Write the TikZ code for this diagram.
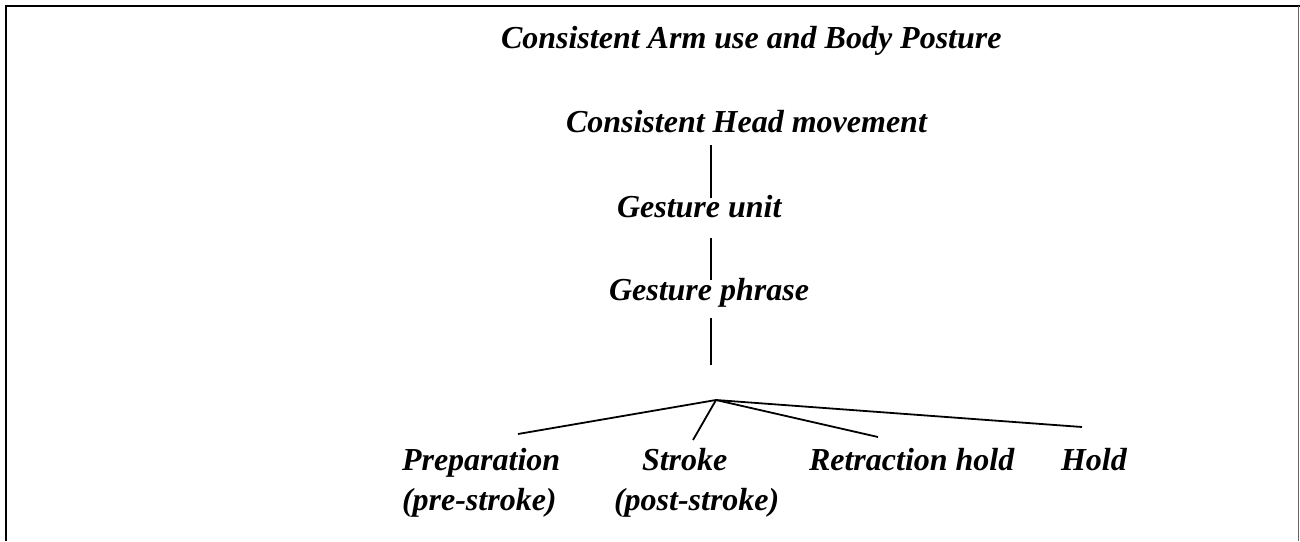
\documentclass[tikz,border=0pt]{standalone}
\usepackage{fontspec}
\setmainfont{Liberation Serif}
\usetikzlibrary{calc}
\begin{document}
\begin{tikzpicture}[x=1pt,y=-1pt,
  lbl/.style={inner sep=0pt, outer sep=0pt, anchor=base west, font=\fontsize{32}{40}\selectfont\bfseries\itshape},
  conn/.style={line width=1.8pt, black},
  frame/.style={line width=2.3pt, black}]
\useasboundingbox (0,0) rectangle (1300,541);
% frame
\draw[frame] (6,541) -- (6,6) -- (1300,6);
\draw[line width=1pt, black!60] (1298.5,6) -- (1298.5,541);
% labels
\node[lbl] (title) at (501,48) {Consistent Arm use and Body Posture};
\node[lbl] (head) at (566,132) {Consistent Head movement};
\node[lbl] (unit) at (617,217) {Gesture unit};
\node[lbl] (phrase) at (609,300) {Gesture phrase};
\node[lbl] (prep) at (402,470) {\begin{tabular}[t]{@{}l@{}}Preparation\\(pre-stroke)\end{tabular}};
\node[lbl] (stroke) at (614,470) {\begin{tabular}[t]{@{}l@{}}\hspace*{28pt}Stroke\\(post-stroke)\end{tabular}};
\node[lbl] (retr) at (809,470) {Retraction hold};
\node[lbl] (hold) at (1061,470) {Hold};
% connectors
\coordinate (stem) at (711,0);
\coordinate (apex) at (716,400);
\draw[conn] ($(head.base -| stem)+(0,13)$) -- ($(unit.base -| stem)+(0,-19)$);
\draw[conn] ($(unit.base -| stem)+(0,21)$) -- ($(phrase.base -| stem)+(0,-20)$);
\coordinate (stemend) at ($(phrase.base -| stem)+(0,65)$);
\draw[conn] ($(phrase.base -| stem)+(0,18)$) -- (stemend);
\draw[conn] (apex) -- ($(prep.base west)+(116,-36)$);
\draw[conn] (apex) -- ($(stroke.base west)+(79,-30)$);
\draw[conn] (apex) -- ($(retr.base west)+(69,-33)$);
\draw[conn] (apex) -- ($(hold.base west)+(21,-43)$);
\end{tikzpicture}
\end{document}
